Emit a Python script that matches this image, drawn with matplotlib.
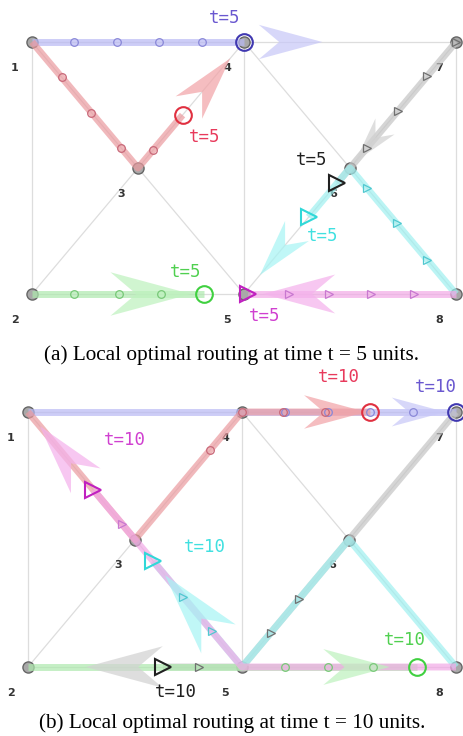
import numpy as np
import matplotlib
matplotlib.use('Agg')
import matplotlib.pyplot as plt
from matplotlib.patches import Polygon

W, H = 464, 736

# ---------------- graph layout (abstract units) ----------------
node_ids = [1, 2, 3, 4, 5, 6, 7, 8]
node_x = [0, 0, 0.5, 1, 1, 1.5, 2, 2]
node_y = [0, 1, 0.5, 0, 1, 0.5, 0, 1]
edges = [(1, 4), (4, 7), (2, 5), (5, 8), (1, 2), (4, 5), (7, 8), (1, 3), (3, 4),
         (2, 3), (3, 5), (4, 6), (6, 7), (5, 6), (6, 8)]

route_names = ['blue', 'red', 'grey', 'cyan', 'green', 'magenta']
route_kind = {'blue': 'circle', 'red': 'circle', 'green': 'circle',
              'grey': 'tri', 'cyan': 'tri', 'magenta': 'tri'}

# ---------------- panel (a): t = 5 ----------------
paths_a = {'blue': [1, 4, 7], 'red': [1, 3, 4], 'grey': [7, 6, 5],
           'cyan': [8, 6, 5], 'green': [2, 5], 'magenta': [8, 5]}
pos_a = {'blue': 1.0, 'red': 1.42, 'grey': 1.12, 'cyan': 1.39, 'green': 0.81, 'magenta': 0.98}
marks_a = {'blue': [0.2, 0.4, 0.6, 0.8], 'red': [0.28, 0.56, 0.84, 1.14],
           'grey': [0.0, 0.27, 0.55, 0.84], 'cyan': [0.27, 0.56, 0.84],
           'green': [0.2, 0.41, 0.61], 'magenta': [0.2, 0.4, 0.6, 0.79]}
arrow_a = {'blue': (1.07, 1.37), 'red': (1.48, 1.87), 'grey': (0.67, 0.95),
           'cyan': (1.5, 1.85), 'green': (0.37, 0.75), 'magenta': (0.57, 0.91)}
label_a = 't=5'

# ---------------- panel (b): t = 10 ----------------
paths_b = {'blue': [1, 4, 7], 'red': [1, 3, 4, 7], 'grey': [7, 6, 5, 2],
           'cyan': [8, 6, 5, 3], 'green': [2, 5, 8], 'magenta': [8, 5, 3, 1]}
pos_b = {'blue': 2.0, 'red': 2.60, 'grey': 2.37, 'cyan': 2.83, 'green': 1.82, 'magenta': 2.39}
marks_b = {'blue': [1.2, 1.4, 1.6, 1.8], 'red': [1.70, 2.0, 2.19, 2.39],
           'grey': [1.47, 1.73, 2.2], 'cyan': [2.28, 2.55],
           'green': [1.2, 1.4, 1.61], 'magenta': [2.12]}
arrow_b = {'blue': (1.70, 1.95), 'red': (2.29, 2.58), 'grey': (2.37, 2.73),
           'cyan': (2.22, 2.72), 'green': (1.38, 1.69), 'magenta': (2.46, 2.89)}
label_b = 't=10'

captions = ['(a) Local optimal routing at time t = 5 units.',
            '(b) Local optimal routing at time t = 10 units.']

# ---------------- styles ----------------
line_col = {'blue': '#b8b8f4', 'red': '#eb9a9f', 'grey': '#c4c4c4',
            'cyan': '#9ef0f0', 'green': '#ade9ad', 'magenta': '#f2a8e6'}
arrow_col = {'blue': '#c8c8f8', 'red': '#f2a4a8', 'grey': '#d2d2d2',
             'cyan': '#a8f4f4', 'green': '#bff2bf', 'magenta': '#f4b2ec'}
mark_col = {'blue': '#8a88d8', 'red': '#c86878', 'grey': '#707070',
            'cyan': '#50c8d0', 'green': '#78c878', 'magenta': '#c878d0'}
cur_col = {'blue': '#4038b0', 'red': '#e03040', 'grey': '#202020',
           'cyan': '#30d8d8', 'green': '#40d040', 'magenta': '#c020c0'}
text_col = {'blue': '#6a58d0', 'red': '#e83a5c', 'grey': '#202020',
            'cyan': '#40e0e0', 'green': '#50d050', 'magenta': '#d040d0'}
text_off_a = {'blue': (-19, -24), 'red': (22, 22), 'grey': (-26, -23),
              'cyan': (14, 19), 'green': (-18, -22), 'magenta': (16, 22)}
text_off_b = {'blue': (-20, -25), 'red': (-32, -35), 'grey': (13, 25),
              'cyan': (52, -14), 'green': (-13, -27), 'magenta': (32, -50)}

fig = plt.figure(figsize=(W / 100, H / 100), dpi=100)

NP = {n: np.array([x, y], float) for n, x, y in zip(node_ids, node_x, node_y)}


def setup(box, x0, y0, sx, sy):
    left, top, w, h = box
    ax = fig.add_axes([left / W, 1 - (top + h) / H, w / W, h / H])
    ax.set_xlim((left - x0) / sx, (left + w - x0) / sx)
    ax.set_ylim((top + h - y0) / sy, (top - y0) / sy)
    ax.axis('off')
    return ax


def point_at(path, s):
    i = min(int(np.floor(s)), len(path) - 2)
    f = s - i
    p0, p1 = NP[path[i]], NP[path[i + 1]]
    return p0 + f * (p1 - p0)


def seg_points(path, s0, s1):
    pts = [point_at(path, s0)]
    k = int(np.floor(s0)) + 1
    while k < s1 and k < len(path):
        pts.append(NP[path[k]])
        k += 1
    pts.append(point_at(path, s1))
    return np.array(pts)


def draw_arrow(ax, path, s0, s1, color):
    p_back = ax.transData.transform(point_at(path, s0))
    p_tip = ax.transData.transform(point_at(path, s1))
    d = p_tip - p_back
    L = np.hypot(*d)
    u = d / L
    n = np.array([-u[1], u[0]])
    Wd = 0.27 * L
    poly = [p_tip, p_back + n * Wd, p_tip - u * 0.68 * L, p_back - n * Wd]
    poly = ax.transData.inverted().transform(np.array(poly))
    ax.add_patch(Polygon(poly, closed=True, fc=color, ec='none', alpha=0.72, zorder=4))


def draw_panel(ax, paths, pos, marks, arrows, label, offs):
    for a, b in edges:
        ax.plot([NP[a][0], NP[b][0]], [NP[a][1], NP[b][1]], color='#dddddd', lw=0.9, zorder=1)
    for n in node_ids:
        ax.plot(*NP[n], 'o', ms=8, mfc='#a8a8a8', mec='#666666', mew=1.0, zorder=2)
        ax.annotate(str(n), NP[n], xytext=(-17, -26), textcoords='offset pixels',
                    ha='center', va='center', fontsize=8, fontweight='bold',
                    color='#333333', family='DejaVu Sans')
    for r in route_names:
        pts = seg_points(paths[r], 0, pos[r])
        ax.plot(pts[:, 0], pts[:, 1], color=line_col[r], lw=5, alpha=0.7,
                solid_capstyle='butt', zorder=3)
    for r in route_names:
        draw_arrow(ax, paths[r], arrows[r][0], arrows[r][1], arrow_col[r])
    for r in route_names:
        m = 'o' if route_kind[r] == 'circle' else '>'
        for s in marks[r]:
            p = point_at(paths[r], s)
            ax.plot(*p, m, ms=5.5, mfc='none', mec=mark_col[r], mew=0.9, zorder=5)
        p = point_at(paths[r], pos[r])
        if route_kind[r] == 'circle':
            ax.plot(*p, 'o', ms=12, mfc='none', mec=cur_col[r], mew=1.5, zorder=6)
        else:
            ax.plot(*p, '>', ms=12, mfc='none', mec=cur_col[r], mew=1.5, zorder=6)
        dx, dy = offs[r]
        ax.annotate(label, p, xytext=(dx, -dy), textcoords='offset pixels',
                    ha='center', va='center', fontsize=12.5, color=text_col[r],
                    family='DejaVu Sans Mono', zorder=7)


ax_a = setup((0, 0, W, 330), 32, 42, 212, 252)
draw_panel(ax_a, paths_a, pos_a, marks_a, arrow_a, label_a, text_off_a)
ax_b = setup((0, 365, W, 340), 28, 412, 214, 255)
draw_panel(ax_b, paths_b, pos_b, marks_b, arrow_b, label_b, text_off_b)

fig.text(0.5, 1 - 355 / H, captions[0], ha='center', va='center', fontsize=15.3,
         family='Liberation Serif')
fig.text(0.5, 1 - 723 / H, captions[1], ha='center', va='center', fontsize=15.3,
         family='Liberation Serif')

fig.savefig('out.png', dpi=100)
